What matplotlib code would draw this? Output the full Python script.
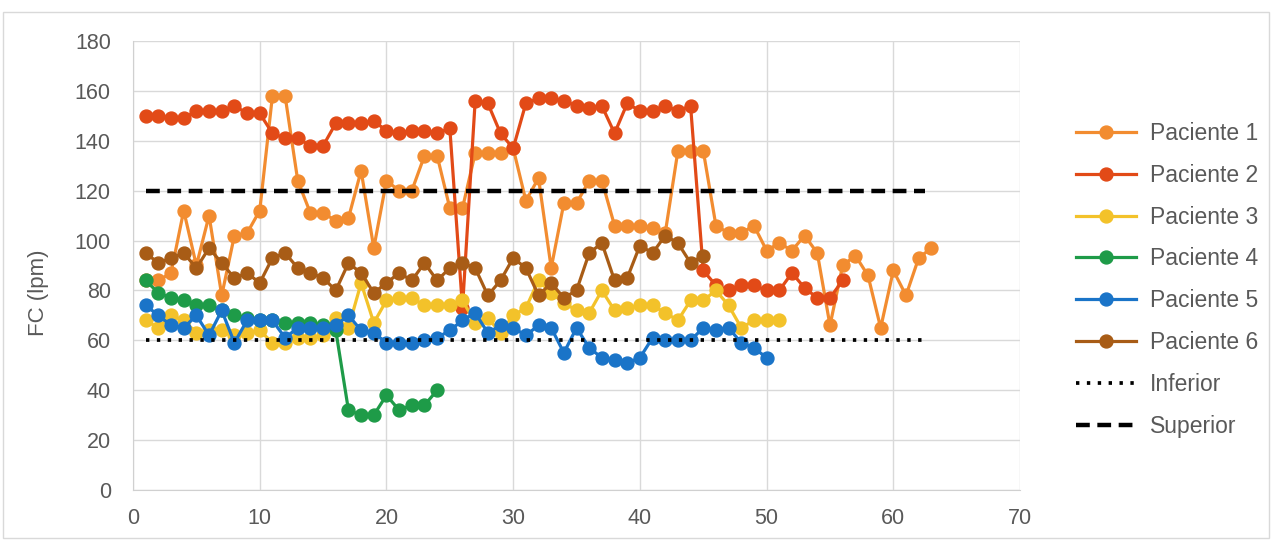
import matplotlib.pyplot as plt
from matplotlib.patches import Rectangle

plt.rcParams['font.family'] = ['Liberation Sans', 'DejaVu Sans']

# heart rate (lpm) per measurement, one list per patient
p1 = [84, 84, 87, 112, 90, 110, 78, 102, 103, 112, 158, 158, 124, 111, 111, 108,
      109, 128, 97, 124, 120, 120, 134, 134, 113, 113, 135, 135, 135, 137, 116, 125,
      89, 115, 115, 124, 124, 106, 106, 106, 105, 103, 136, 136, 136, 106, 103, 103,
      106, 96, 99, 96, 102, 95, 66, 90, 94, 86, 65, 88, 78, 93, 97]
p2 = [150, 150, 149, 149, 152, 152, 152, 154, 151, 151, 143, 141, 141, 138, 138, 147,
      147, 147, 148, 144, 143, 144, 144, 143, 145, 73, 156, 155, 143, 137, 155, 157,
      157, 156, 154, 153, 154, 143, 155, 152, 152, 154, 152, 154, 88, 82, 80, 82,
      82, 80, 80, 87, 81, 77, 77, 84]
p3 = [68, 65, 70, 68, 63, 64, 64, 62, 63, 64, 59, 59, 61, 61, 62, 69,
      65, 83, 67, 76, 77, 77, 74, 74, 74, 76, 67, 69, 63, 70, 73, 84,
      79, 75, 72, 71, 80, 72, 73, 74, 74, 71, 68, 76, 76, 80, 74, 65,
      68, 68, 68]
p4 = [84, 79, 77, 76, 74, 74, 72, 70, 69, 68, 68, 67, 67, 67, 66, 64,
      32, 30, 30, 38, 32, 34, 34, 40]
p5 = [74, 70, 66, 65, 70, 62, 72, 59, 68, 68, 68, 61, 65, 65, 65, 66,
      70, 64, 63, 59, 59, 59, 60, 61, 64, 68, 71, 63, 66, 65, 62, 66,
      65, 55, 65, 57, 53, 52, 51, 53, 61, 60, 60, 60, 65, 64, 65, 59,
      57, 53]
p6 = [95, 91, 93, 95, 89, 97, 91, 85, 87, 83, 93, 95, 89, 87, 85, 80,
      91, 87, 79, 83, 87, 84, 91, 84, 89, 91, 89, 78, 84, 93, 89, 78,
      83, 77, 80, 95, 99, 84, 85, 98, 95, 102, 99, 91, 94]

patients = [p1, p2, p3, p4, p5, p6]
names = ['Paciente 1', 'Paciente 2', 'Paciente 3', 'Paciente 4', 'Paciente 5', 'Paciente 6']
colors = ['#F28C30', '#E24A17', '#F3C22A', '#1E9B48', '#1A74C8', '#A85C16']

lower = 60
upper = 120
x_end = len(p1)

fig = plt.figure(figsize=(12.73, 5.44), dpi=100)
ax = fig.add_axes([0.1045, 0.0993, 0.6968, 0.8253])

for vals, name, c in zip(patients, names, colors):
    x = range(1, len(vals) + 1)
    ax.plot(x, vals, '-o', color=c, lw=2.3, ms=9.3, mec=c, mfc=c, label=name)

ax.plot([1, x_end - 0.5], [lower, lower], color='black', lw=2.7,
        dashes=(0.9, 2.0), label='Inferior')
ax.plot([1, x_end - 0.5], [upper, upper], color='black', lw=3.2,
        dashes=(3.1, 1.7), label='Superior')

ax.set_xlim(0, 70)
ax.set_ylim(0, 180)
ax.set_xticks(range(0, 71, 10))
ax.set_yticks(range(0, 181, 20))
ax.grid(True, color='#D9D9D9', lw=1)
ax.set_axisbelow(True)
for s in ['top', 'right']:
    ax.spines[s].set_visible(False)
for s in ['left', 'bottom']:
    ax.spines[s].set_color('#D0D0D0')
ax.tick_params(length=0, labelsize=15.5, colors='#595959')
ax.tick_params(axis='y', pad=16)
ax.tick_params(axis='x', pad=13)
ax.set_ylabel('FC (lpm)', fontsize=16, color='#595959', labelpad=20)
ax.yaxis.set_label_coords(-0.095, 0.44)

leg = ax.legend(loc='upper left', bbox_to_anchor=(1.053, 0.84), frameon=False,
                fontsize=16.5, labelcolor='#595959', handlelength=2.6,
                handletextpad=0.6, labelspacing=0.82, borderaxespad=0)

# thin frame around the whole chart
fig.patches.append(Rectangle((3 / 1273, 6 / 544), 1266 / 1273, 526 / 544,
                             transform=fig.transFigure, fill=False,
                             edgecolor='#D9D9D9', lw=1))

fig.savefig('out.png', dpi=100)
